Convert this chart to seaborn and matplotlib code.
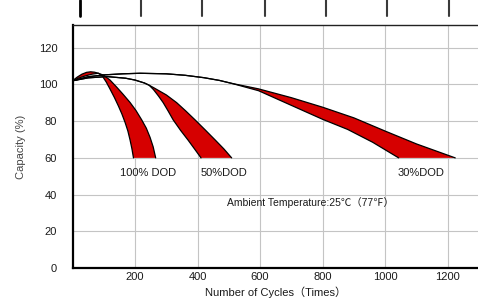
import numpy as np
import matplotlib
matplotlib.use("Agg")
import matplotlib.pyplot as plt
import seaborn as sns
from matplotlib.lines import Line2D

# ---- data ----
x_ticks = [200, 400, 600, 800, 1000, 1200]
y_ticks = [0, 20, 40, 60, 80, 100, 120]

# 100% DOD band (upper = right edge, lower = left edge)
cyc_100_up = [0, 15, 30, 45, 58, 70, 83, 100, 120, 141, 162, 184, 203, 221, 236, 248, 258, 266]
cap_100_up = [102, 104, 105.6, 106.6, 106.9, 106.7, 106.1, 105.0, 102.4, 98.6, 94.6, 90.2, 85.8, 80.8, 76.2, 71.2, 66.0, 60]
cyc_100_lo = [0, 20, 40, 62, 83, 95, 108, 120, 134, 147, 158, 168, 177, 184, 190, 195]
cap_100_lo = [102, 103.5, 104.6, 105.6, 106.1, 104.7, 101.3, 97.5, 92.9, 88.2, 83.9, 79.4, 74.7, 69.8, 65.0, 60]

# 50% DOD band
cyc_50_up = [0, 50, 110, 170, 200, 230, 245, 259, 300, 333, 362, 392, 424, 456, 484, 509]
cap_50_up = [102, 103.6, 104.3, 103.4, 102.4, 100.8, 99.6, 98.3, 94.3, 90.1, 85.6, 80.7, 75.3, 69.8, 64.9, 60]
cyc_50_lo = [0, 50, 110, 170, 200, 230, 245, 259, 275, 290, 306, 322, 346, 370, 391, 411]
cap_50_lo = [102, 103.6, 104.3, 103.4, 102.4, 100.8, 99.6, 97.2, 93.7, 90.1, 85.5, 80.7, 74.9, 69.6, 64.7, 60]

# 30% DOD band
cyc_30_up = [0, 50, 100, 160, 216, 300, 360, 420, 470, 509, 595, 700, 800, 900, 1000, 1100, 1224]
cap_30_up = [102, 104.2, 105.2, 105.8, 106.1, 105.8, 105.0, 103.7, 102.2, 100.6, 97.6, 92.8, 87.6, 81.8, 74.6, 67.6, 60]
cyc_30_lo = [0, 50, 100, 160, 216, 300, 360, 420, 470, 509, 595, 700, 800, 880, 960, 1043]
cap_30_lo = [102, 104.2, 105.2, 105.8, 106.1, 105.8, 105.0, 103.7, 102.2, 100.6, 96.6, 88.6, 81.0, 75.5, 68.5, 60]

band_labels = ["100% DOD", "50%DOD", "30%DOD"]
label_cycles = [243, 485, 1115]
label_capacity = 51.8
note_text = "Ambient Temperature:25℃（77℉）"

RED = "#d60000"

sns.set_theme(style="whitegrid")
plt.rcParams["font.family"] = ["Liberation Sans", "Noto Sans CJK SC", "DejaVu Sans"]

fig = plt.figure(figsize=(4.78, 3.04), dpi=100)
fig.patch.set_facecolor("white")
ax = fig.add_axes([72.5 / 478, 36 / 304, 406.5 / 478, 243 / 304])
ax.set_facecolor("white")

bands = [
    (cyc_100_up, cap_100_up, cyc_100_lo, cap_100_lo),
    (cyc_50_up, cap_50_up, cyc_50_lo, cap_50_lo),
    (cyc_30_up, cap_30_up, cyc_30_lo, cap_30_lo),
]
for xu, yu, xl, yl in bands:
    ax.fill(np.concatenate([xu, xl[::-1]]), np.concatenate([yu, yl[::-1]]),
            color=RED, lw=0, zorder=2)
    sns.lineplot(x=xu, y=yu, sort=False, color="black", lw=0.9, ax=ax, zorder=3)
    sns.lineplot(x=xl, y=yl, sort=False, color="black", lw=0.9, ax=ax, zorder=3)

for lab, xc in zip(band_labels, label_cycles):
    ax.text(xc, label_capacity, lab, ha="center", va="center", fontsize=8, color="#1a1a1a")
ax.text(760, 35.4, note_text, ha="center", va="center", fontsize=7.5, color="#1a1a1a")

ax.set_xlim(0, 1300)
ax.set_ylim(0, 132.4)
ax.set_xticks(x_ticks)
ax.set_yticks(y_ticks)
ax.set_xticklabels([str(v) for v in x_ticks])
ax.set_yticklabels([str(v) for v in y_ticks])
ax.tick_params(axis="x", length=0, pad=3, labelsize=8, labelcolor="#1a1a1a")
ax.tick_params(axis="y", length=0, pad=11, labelsize=8, labelcolor="#1a1a1a")
ax.grid(True, color="#c4c4c4", lw=0.8)
ax.set_axisbelow(True)

ax.set_xlabel("Number of Cycles（Times）", fontsize=8, color="#1a1a1a", labelpad=3)
ax.set_ylabel("Capacity (%)", fontsize=8, color="#444444", labelpad=9)

for side in ["left", "bottom"]:
    ax.spines[side].set_color("black")
    ax.spines[side].set_linewidth(1.6)
ax.spines["top"].set_color("#222222")
ax.spines["top"].set_linewidth(1.0)
ax.spines["right"].set_visible(False)

# short marks along the top edge of the picture
for i, px in enumerate([80, 141, 202, 265, 326, 387, 449]):
    fig.add_artist(Line2D([px / 478, px / 478], [1.0, 1 - 16 / 304],
                          transform=fig.transFigure,
                          color="black" if i == 0 else "#3a3a3a",
                          lw=2.0 if i == 0 else 1.5))

fig.savefig("out.png", dpi=100)
